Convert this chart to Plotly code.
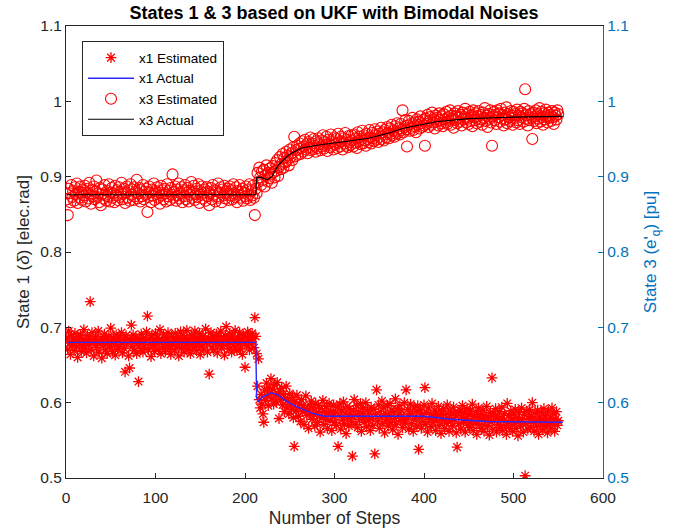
import plotly.graph_objects as go

# Step index for the estimates
steps = list(range(1, 551))

# x1 estimated (thousandths of elec.rad)
x1_est_milli = [
686, 671, 695, 679, 664, 688, 676, 683, 669, 692, 681, 674, 660, 687, 678, 690, 668, 684, 675, 697,
672, 681, 666, 689, 677, 685, 734, 670, 693, 679, 662, 684, 688, 673, 680, 695, 667, 678, 686, 659,
683, 676, 691, 670, 684, 665, 679, 688, 674, 699, 681, 668, 686, 677, 663, 690, 682, 671, 687, 675,
680, 693, 666, 684, 672, 641, 689, 678, 685, 662, 646, 683, 703, 674, 690, 669, 681, 687, 665, 678,
628, 684, 672, 691, 679, 667, 686, 673, 682, 694, 715, 670, 685, 677, 661, 689, 676, 683, 668, 692,
679, 686, 671, 684, 697, 665, 680, 674, 690, 682, 668, 687, 676, 693, 672, 681, 664, 688, 677, 685,
670, 692, 683, 675, 687, 662, 679, 694, 672, 684, 689, 667, 680, 676, 696, 685, 671, 683, 665, 690,
678, 687, 673, 695, 681, 669, 686, 677, 692, 664, 684, 675, 688, 671, 683, 698, 679, 667, 686, 638,
681, 693, 674, 687, 670, 684, 679, 691, 666, 682, 688, 676, 695, 672, 680, 686, 663, 689, 701, 677,
684, 671, 692, 679, 667, 688, 683, 674, 696, 681, 669, 686, 678, 693, 672, 685, 664, 690, 680, 647,
687, 676, 694, 682, 670, 689, 678, 692, 685, 673, 713, 688,
665, 622, 658, 604, 593, 611, 598, 585,
574, 617, 603, 626, 609, 596, 620, 613, 632, 605, 618, 598, 624, 610, 601, 627, 612, 579, 615, 604,
619, 597, 611, 588, 606, 622, 594, 603, 585, 612, 598, 591, 607, 580, 542, 601, 589, 610, 593, 582,
598, 575, 604, 588, 596, 571, 592, 609, 583, 590, 566, 597, 586, 602, 578, 593, 584, 569, 599, 587,
574, 596, 583, 561, 592, 580, 603, 571, 588, 578, 595, 566, 585, 599, 576, 589, 563, 582, 597, 574,
587, 570, 594, 542, 583, 598, 565, 590, 577, 601, 572, 586, 559, 595, 580, 569, 592, 584, 575, 529,
589, 604, 571, 583, 596, 567, 588, 578, 599, 562, 585, 593, 574, 581, 600, 568, 590, 577, 586, 563,
594, 579, 570, 591, 532, 584, 617, 575, 597, 566, 588, 581, 602, 572, 593, 560, 585, 578, 596, 569,
583, 599, 574, 590, 564, 587, 579, 605, 571, 592, 558, 584, 596, 576, 589, 567, 581, 600, 573, 617,
578, 591, 565, 586, 598, 572, 583, 562, 594, 577, 588, 569, 596, 538, 580, 590, 566, 585, 575, 597,
620, 571, 587, 561, 593, 578, 584, 568, 599, 574, 582, 590, 563, 586, 576, 595, 570, 583, 559, 588,
577, 592, 566, 584, 573, 597, 580, 562, 589, 575, 586, 569, 594, 578, 583, 560, 541, 587, 572, 590,
565, 581, 596, 574, 586, 561, 579, 592, 570, 584, 567, 589, 576, 598, 563, 582, 572, 588, 558, 580,
593, 571, 584, 566, 578, 590, 562, 583, 575, 595, 569, 580, 557, 587, 574, 633, 565, 585, 578, 592,
561, 582, 571, 588, 567, 579, 594, 563, 576, 585, 570, 558, 599, 574, 583, 566, 589, 577, 562, 584,
573, 591, 566, 580, 556, 587, 575, 569, 593, 578, 561, 584, 503, 572, 588, 565, 579, 591, 567, 582,
600, 574, 562, 586, 577, 569, 590, 558, 581, 573, 587, 564, 578, 592, 568, 583, 575, 560, 589, 571,
580, 566, 593, 574, 585, 562, 578, 588, 570, 576,
]

# x3 estimated (thousandths of pu)
x3_est_milli = [
870, 849, 884, 878, 866, 889, 873, 881, 868, 886, 877, 891, 865, 880, 872, 887, 879, 869, 883, 875,
888, 867, 879, 884, 871, 892, 876, 864, 882, 874, 887, 870, 880, 895, 873, 878, 866, 885, 862, 877,
883, 871, 889, 876, 868, 881, 874, 890, 867, 879, 885, 872, 878, 866, 888, 875, 882, 869, 886, 873,
880, 892, 870, 877, 884, 865, 879, 887, 872, 881, 868, 890, 876, 883, 869, 886, 874, 880, 896, 871,
878, 885, 867, 882, 874, 889, 870, 880, 876, 884, 853, 873, 887, 879, 866, 883, 875, 891, 869, 881,
877, 886, 872, 879, 864, 888, 875, 882, 870, 884, 878, 867, 890, 874, 881, 869, 885, 876, 903, 872,
880, 887, 868, 883, 875, 891, 871, 878, 886, 866, 882, 874, 889, 870, 879, 885, 867, 881, 876, 893,
872, 880, 888, 869, 877, 884, 873, 890, 865, 881, 876, 887, 871, 879, 883, 868, 886, 874, 880, 862,
878, 885, 870, 889, 876, 882, 867, 881, 874, 891, 872, 879, 886, 866, 883, 875, 888, 871, 880, 877,
884, 869, 887, 875, 882, 870, 890, 878, 873, 886, 866, 881, 876, 889, 872, 880, 884, 868, 879, 874,
887, 871, 883, 876, 890, 869, 881, 875, 888, 872, 849, 884,
878, 905, 893, 912, 899, 889, 907, 896,
909, 887, 902, 915, 894, 905, 898, 911, 903, 892, 914, 906, 899, 918, 908, 922, 901, 913, 926, 910,
917, 930, 912, 925, 919, 933, 921, 928, 915, 936, 926, 931, 922, 939, 953, 927, 935, 941, 929, 937,
944, 930, 938, 947, 933, 940, 949, 936, 943, 931, 946, 939, 952, 935, 944, 937, 950, 941, 933, 947,
938, 951, 943, 935, 948, 940, 955, 937, 946, 942, 953, 934, 949, 944, 939, 956, 941, 947, 936, 952,
943, 950, 938, 957, 945, 940, 953, 947, 936, 951, 944, 958, 941, 949, 939, 954, 946, 942, 955, 948,
940, 956, 945, 951, 938, 959, 947, 953, 943, 950, 961, 944, 955, 948, 941, 957, 950, 946, 962, 952,
944, 958, 951, 947, 963, 955, 949, 960, 946, 957, 953, 965, 950, 959, 948, 962, 956, 952, 966, 958,
951, 964, 957, 969, 955, 961, 953, 967, 960, 971, 958, 964, 956, 970, 962, 988, 959, 966, 975, 963,
940, 968, 974, 961, 970, 965, 978, 962, 972, 967, 959, 976, 969, 973, 964, 980, 971, 966, 975, 968,
941, 977, 970, 982, 966, 974, 979, 969, 985, 972, 976, 964, 981, 973, 978, 968, 984, 975, 971, 980,
967, 983, 976, 972, 986, 970, 979, 974, 988, 969, 981, 977, 965, 984, 975, 980, 971, 987, 978, 973,
982, 968, 985, 976, 979, 990, 972, 983, 977, 970, 986, 974, 981, 967, 988, 979, 975, 984, 971, 980,
987, 973, 982, 976, 969, 985, 978, 991, 974, 981, 966, 983, 977, 988, 972, 941, 980, 986, 975, 982,
970, 988, 979, 984, 973, 990, 977, 982, 968, 985, 976, 992, 971, 983, 979, 974, 987, 981, 969, 986,
978, 983, 972, 989, 975, 981, 970, 986, 979, 984, 973, 990, 1016, 977, 982, 968, 987, 975, 983, 978,
950, 985, 974, 980, 988, 971, 983, 977, 991, 973, 986, 979, 969, 984, 976, 989, 980, 972, 985, 978,
982, 974, 987, 979, 970, 985, 981, 976, 988, 983,
]

# Actual trajectories (breakpoints)
x1_act_steps = [1, 212, 213, 215, 219, 229, 236, 245, 255, 265, 275, 288, 400, 430, 470, 555]
x1_act_vals = [0.680, 0.680, 0.606, 0.602, 0.607, 0.613, 0.611, 0.603, 0.596, 0.591, 0.586, 0.582, 0.582, 0.578, 0.575, 0.574]

x3_act_steps = [1, 212, 213, 218, 225, 230, 237, 249, 263, 282, 308, 338, 361, 376, 413, 450, 500, 555]
x3_act_vals = [0.876, 0.876, 0.899, 0.899, 0.896, 0.900, 0.915, 0.929, 0.938, 0.942, 0.946, 0.951, 0.958, 0.964, 0.973, 0.977, 0.979, 0.980]

x1_est = [v / 1000 for v in x1_est_milli]
x3_est = [v / 1000 for v in x3_est_milli]

FONT = "Liberation Sans, Arial, Helvetica, sans-serif"
RIGHT_BLUE = "#0072BD"
DARK = "#262626"

fig = go.Figure()
fig.add_trace(go.Scatter(
    x=steps, y=x1_est, mode="markers", name="x1 Estimated",
    marker=dict(symbol="asterisk-open", size=9, color="red", line=dict(color="red", width=1.3)),
))
fig.add_trace(go.Scatter(
    x=x1_act_steps, y=x1_act_vals, mode="lines", name="x1 Actual",
    line=dict(color="rgb(40,40,255)", width=1.4),
))
fig.add_trace(go.Scatter(
    x=steps, y=x3_est, mode="markers", name="x3 Estimated", yaxis="y2",
    marker=dict(symbol="circle-open", size=11, color="red", line=dict(color="red", width=1.1)),
))
fig.add_trace(go.Scatter(
    x=x3_act_steps, y=x3_act_vals, mode="lines", name="x3 Actual", yaxis="y2",
    line=dict(color="black", width=1.1),
))

fig.update_layout(
    width=681, height=532,
    margin=dict(l=66, r=78, t=26, b=54),
    paper_bgcolor="white", plot_bgcolor="white",
    font=dict(family=FONT, size=15.5, color=DARK),
    title=dict(text="<b>States 1 & 3 based on UKF with Bimodal Noises</b>",
               x=0.4905, xanchor="center", y=0.9765, yanchor="middle",
               font=dict(family=FONT, size=18, color="black")),
    xaxis=dict(range=[0, 600], tickvals=[0, 100, 200, 300, 400, 500, 600],
               showline=True, linecolor=DARK, linewidth=1, mirror=True,
               ticks="inside", ticklen=5, tickcolor=DARK, ticklabelstandoff=5,
               showgrid=False, zeroline=False, automargin=False,
               title=dict(text="Number of Steps", font=dict(size=17.5), standoff=7)),
    yaxis=dict(range=[0.5, 1.1], tickvals=[0.5, 0.6, 0.7, 0.8, 0.9, 1.0, 1.1],
               showline=True, linecolor=DARK, linewidth=1, mirror=False,
               ticks="inside", ticklen=5, tickcolor=DARK,
               showgrid=False, zeroline=False, automargin=False,
               title=dict(text="State 1 (<i>δ</i>) [elec.rad]", font=dict(size=17), standoff=6)),
    yaxis2=dict(range=[0.5, 1.1], tickvals=[0.5, 0.6, 0.7, 0.8, 0.9, 1.0, 1.1],
                overlaying="y", side="right", anchor="x",
                showline=True, linecolor=RIGHT_BLUE, linewidth=1.3,
                ticks="inside", ticklen=5, tickcolor=RIGHT_BLUE,
                tickfont=dict(color=RIGHT_BLUE), showgrid=False, zeroline=False,
                automargin=False,
                title=dict(text="State 3 (e'<sub>q</sub>) [pu]", font=dict(size=17, color=RIGHT_BLUE), standoff=16)),
    legend=dict(x=0.0298, y=0.966, xanchor="left", yanchor="top",
                bgcolor="white", bordercolor=DARK, borderwidth=1,
                font=dict(family=FONT, size=13.5, color="black"),
                tracegroupgap=0, itemwidth=46),
    showlegend=True,
)

fig.write_html("out.html", config={"displayModeBar": False},
               post_script="document.body.style.margin='0px';")
